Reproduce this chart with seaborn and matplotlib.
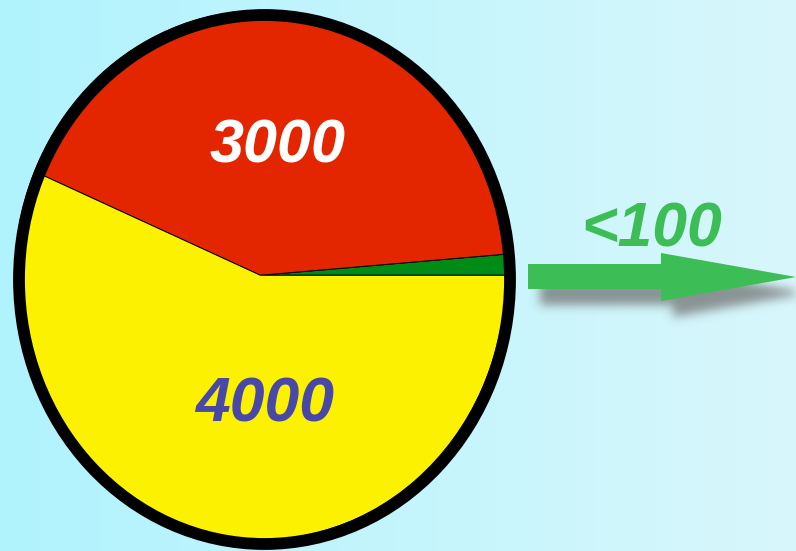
import numpy as np
import matplotlib
matplotlib.use("Agg")
import matplotlib.pyplot as plt
import seaborn as sns
from matplotlib.patches import Ellipse, Polygon
from matplotlib.path import Path

sns.set_theme(style="white")
plt.rcParams["font.family"] = ["Liberation Sans", "DejaVu Sans"]

# Slice data (counter-clockwise from 3 o'clock)
categories = ["small", "medium", "large"]
values = [90, 3000, 4000]
labels = ["<100", "3000", "4000"]
colors = ["#008a16", "#e42600", "#fcf200"]
label_colors = ["#3cbd55", "#ffffff", "#4848a8"]

W, H = 796, 551
fig = plt.figure(figsize=(W / 100, H / 100), dpi=100)

# Background: soft horizontal cyan gradient
bg = fig.add_axes([0, 0, 1, 1])
bg.set_axis_off()
left = np.array([176, 243, 254]) / 255
right = np.array([216, 247, 251]) / 255
t = np.linspace(0, 1, W)[None, :, None]
grad = left + (right - left) * t
grad = np.repeat(grad, H, axis=0)
bg.imshow(grad, extent=[0, W, H, 0], aspect="auto", zorder=0)
bg.set_xlim(0, W)
bg.set_ylim(H, 0)

# Arrow geometry in pixel space
arrow_pts = np.array([
    [528, 264], [661, 264], [661, 253], [796, 277],
    [661, 301], [661, 289], [528, 289],
])

# Blurred drop shadow under the arrow
yy, xx = np.mgrid[0:H, 0:W]
shadow_path = Path(arrow_pts + np.array([12, 16]))
mask = shadow_path.contains_points(np.c_[xx.ravel() + 0.5, yy.ravel() + 0.5]).reshape(H, W).astype(float)
k = np.exp(-0.5 * (np.arange(-15, 16) / 5.0) ** 2)
k /= k.sum()
mask = np.apply_along_axis(lambda r: np.convolve(r, k, mode="same"), 1, mask)
mask = np.apply_along_axis(lambda c: np.convolve(c, k, mode="same"), 0, mask)
shadow = np.zeros((H, W, 4))
shadow[..., :3] = 0.45
shadow[..., 3] = mask * 0.75
bg.imshow(shadow, extent=[0, W, H, 0], aspect="auto", zorder=1)
bg.add_patch(Polygon(arrow_pts, closed=True, facecolor=label_colors[0],
                     edgecolor="none", zorder=2))
bg.text(652, 230, labels[0], color=label_colors[0], fontsize=45,
        fontweight="bold", fontstyle="italic", ha="center", va="center", zorder=3)

# Elliptical pie
cx, cy, rx, ry = 264.5, 279.5, 245.5, 264.5
ax = fig.add_axes([(cx - rx) / W, 1 - (cy + ry) / H, 2 * rx / W, 2 * ry / H])
ax.pie(values, colors=colors, startangle=0, counterclock=True, radius=1,
       center=(-0.017, 0.016),
       wedgeprops=dict(edgecolor="black", linewidth=0.7))
ax.set_aspect("auto")
ax.set_xlim(-1, 1)
ax.set_ylim(-1, 1)
ax.set_axis_off()
ax.add_patch(Ellipse((0, 0), 2, 2, facecolor="none", edgecolor="black",
                     linewidth=8.5, zorder=5, clip_on=False))

ax.text(0.055, 0.50, labels[1], color=label_colors[1], fontsize=44,
        fontweight="bold", fontstyle="italic", ha="center", va="center", zorder=6)
ax.text(0.0, -0.475, labels[2], color=label_colors[2], fontsize=45,
        fontweight="bold", fontstyle="italic", ha="center", va="center", zorder=6)

fig.savefig("out.png", dpi=100)
